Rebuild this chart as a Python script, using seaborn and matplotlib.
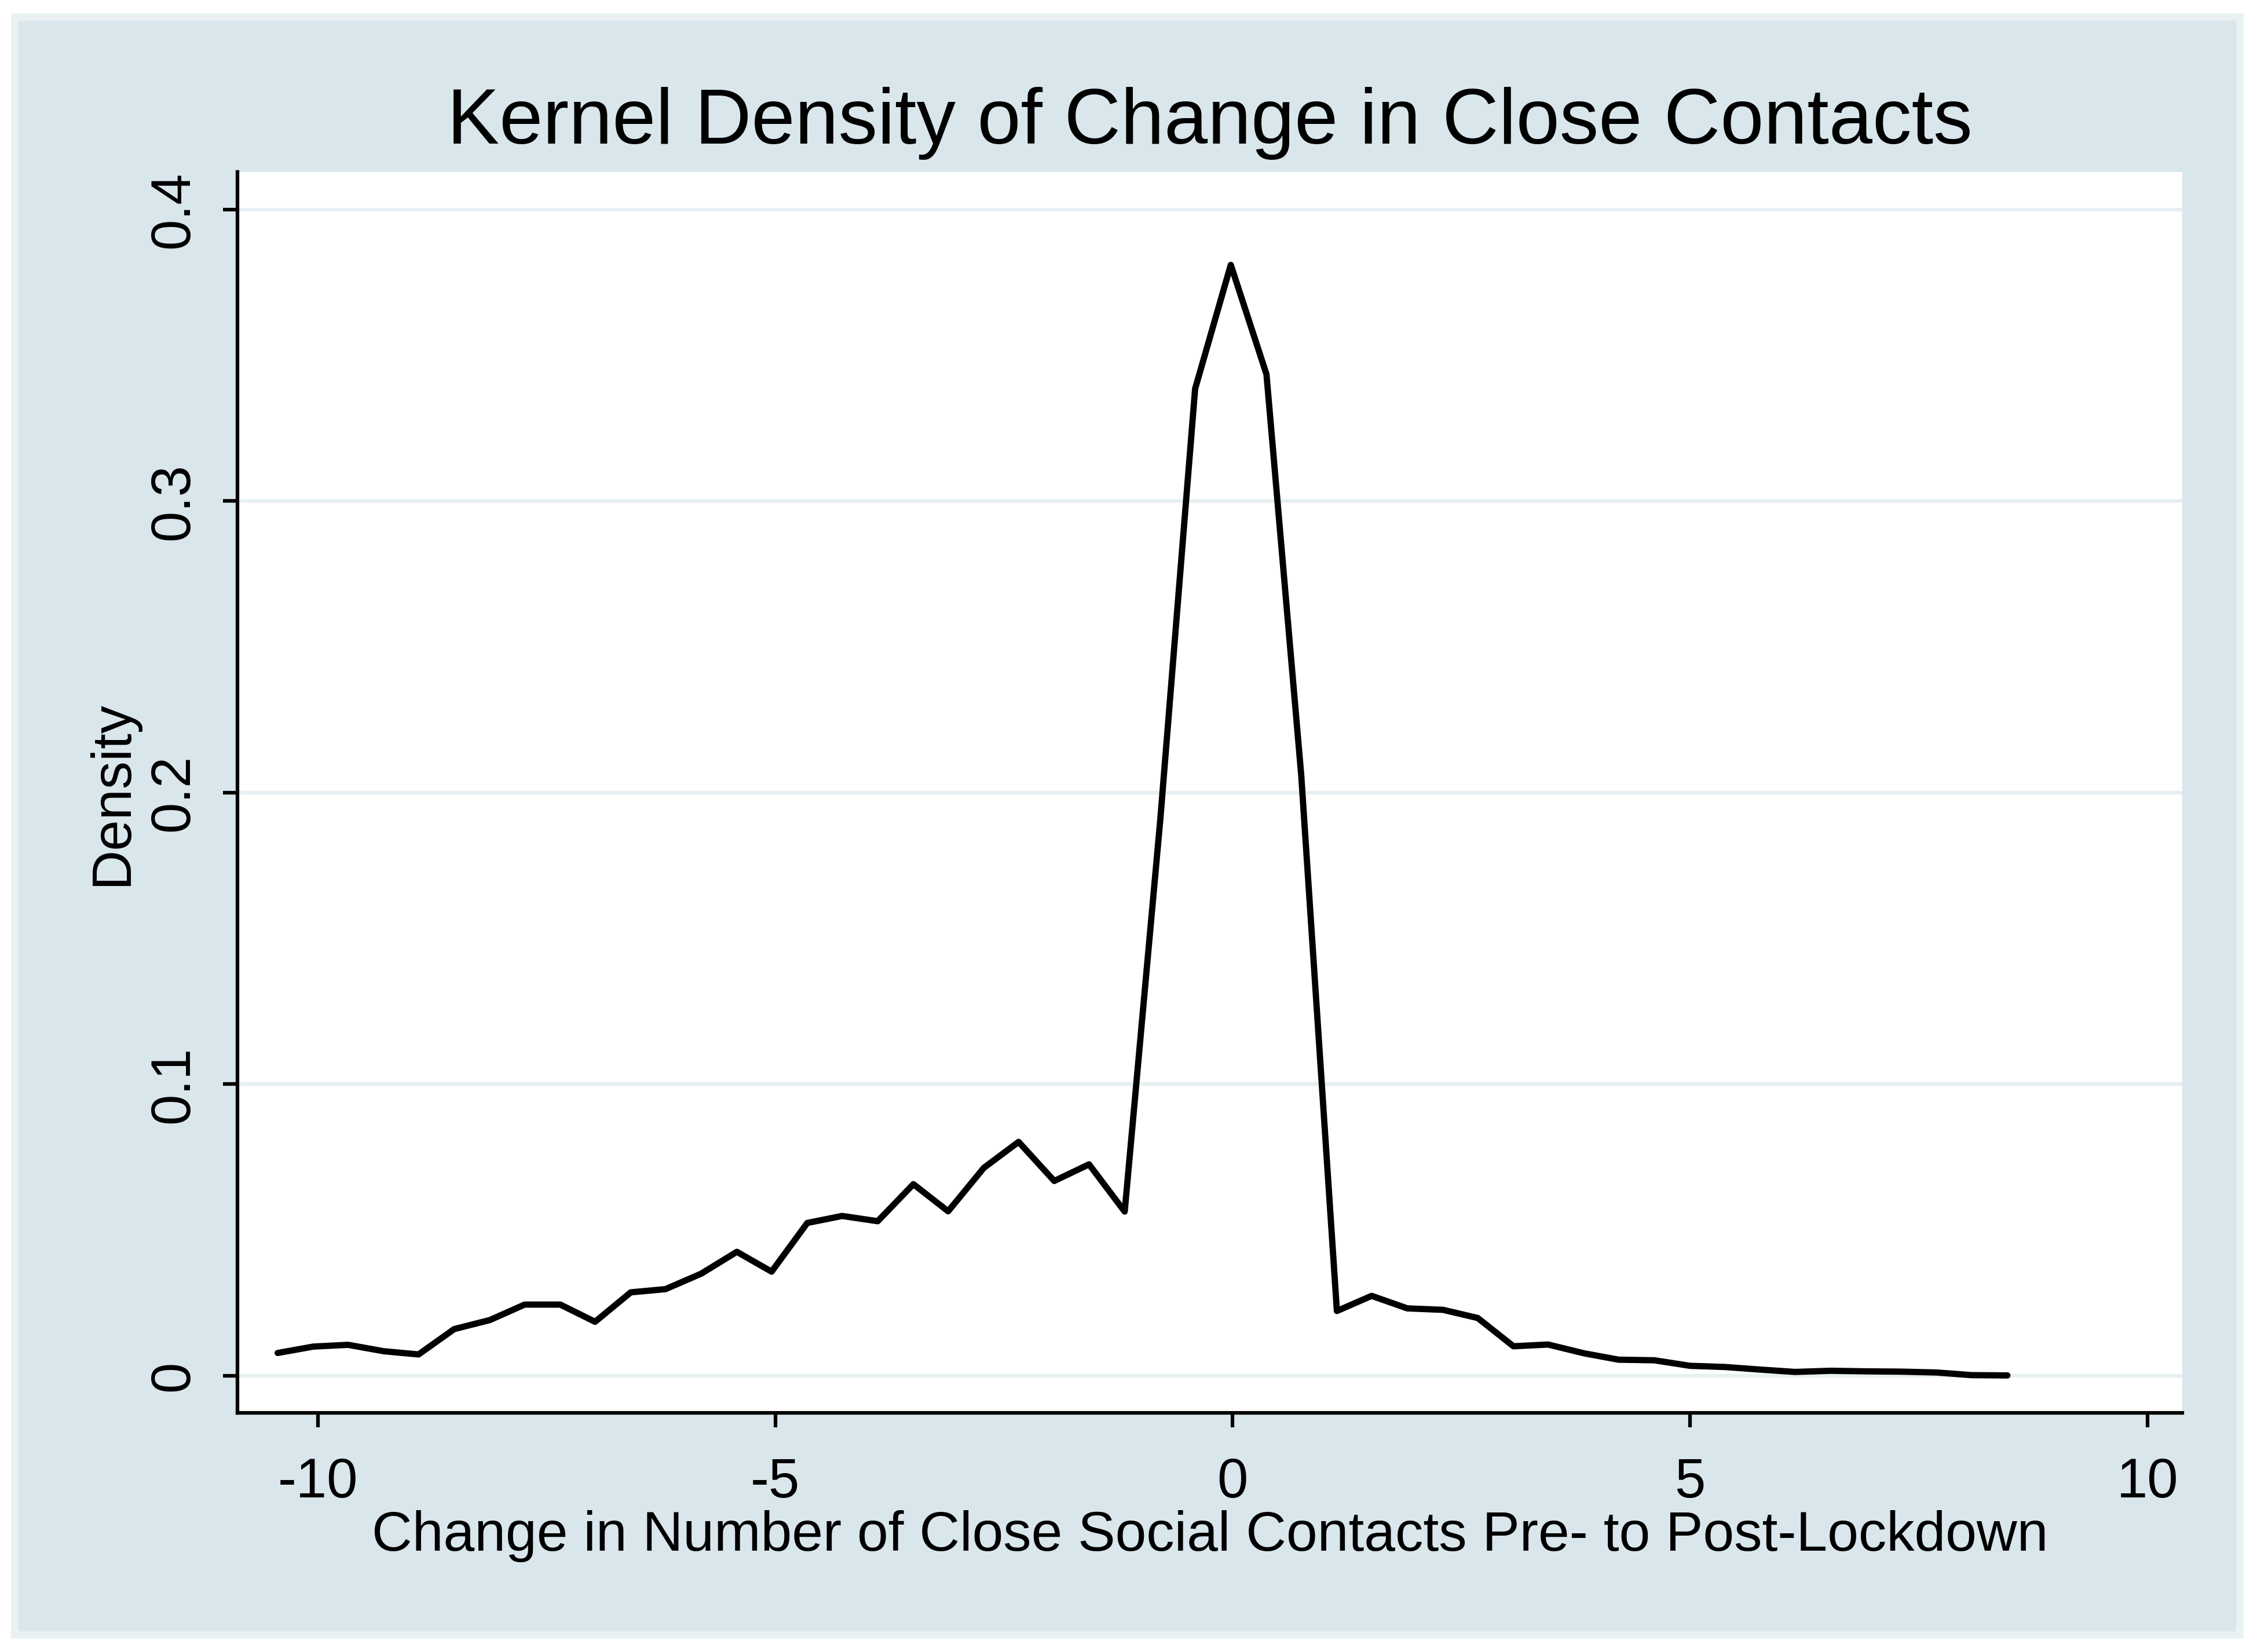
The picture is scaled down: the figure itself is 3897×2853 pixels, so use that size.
import pandas as pd
import seaborn as sns
import matplotlib.pyplot as plt
from matplotlib.patches import Rectangle

# kernel density estimate (50 evaluation points)
change = [-10.44, -10.05, -9.67, -9.28, -8.90, -8.51, -8.12, -7.74, -7.35, -6.97,
          -6.58, -6.20, -5.81, -5.42, -5.04, -4.65, -4.27, -3.88, -3.49, -3.11,
          -2.72, -2.34, -1.95, -1.57, -1.18, -0.79, -0.41, -0.02, 0.37, 0.75,
          1.14, 1.52, 1.91, 2.30, 2.68, 3.07, 3.45, 3.84, 4.22, 4.61,
          5.00, 5.38, 5.77, 6.15, 6.54, 6.93, 7.31, 7.70, 8.08, 8.47]
density = [0.0078, 0.0100, 0.0106, 0.0084, 0.0073, 0.0160, 0.0191, 0.0244, 0.0244, 0.0185,
           0.0286, 0.0297, 0.0350, 0.0425, 0.0357, 0.0524, 0.0548, 0.0530, 0.0657, 0.0564,
           0.0713, 0.0802, 0.0668, 0.0725, 0.0563, 0.1910, 0.3385, 0.3810, 0.3435, 0.2060,
           0.0222, 0.0274, 0.0231, 0.0226, 0.0198, 0.0101, 0.0107, 0.0077, 0.0055, 0.0053,
           0.0034, 0.0030, 0.0021, 0.0013, 0.0017, 0.0015, 0.0014, 0.0011, 0.0002, 0.0001]

xticks = [-10, -5, 0, 5, 10]
xticklabels = ['-10', '-5', '0', '5', '10']
yticks = [0, 0.1, 0.2, 0.3, 0.4]
yticklabels = ['0', '0.1', '0.2', '0.3', '0.4']

df = pd.DataFrame({'change': change, 'density': density})

sns.set_theme(style='white')
plt.rcParams['font.family'] = ['Liberation Sans', 'DejaVu Sans']

fig = plt.figure(figsize=(12.99, 9.513), dpi=300)
fig.patch.set_facecolor('white')
# stata-like graph region, kept behind the axes
fig.patches.append(Rectangle((0.0064, 0.0105), 0.9859, 0.979, transform=fig.transFigure,
                             facecolor='#d9e6ec', edgecolor='#e9f1f3', linewidth=3, zorder=-10))

ax = fig.add_axes([0.1052, 0.1446, 0.8616, 0.7509])
ax.set_zorder(1)
ax.set_facecolor('white')

for v in yticks:
    ax.axhline(v, color='#e6eff2', linewidth=1.5, zorder=0)

sns.lineplot(data=df, x='change', y='density', color='black', linewidth=2.6, ax=ax)

ax.set_xlim(-10.88, 10.38)
ax.set_ylim(-0.0128, 0.4128)
ax.set_xticks(xticks)
ax.set_xticklabels(xticklabels)
ax.set_yticks(yticks)
ax.set_yticklabels(yticklabels)

for s in ['top', 'right']:
    ax.spines[s].set_visible(False)
for s in ['left', 'bottom']:
    ax.spines[s].set_color('black')
    ax.spines[s].set_linewidth(1.5)

ax.tick_params(axis='both', direction='out', length=6, width=1.5, color='black',
               labelsize=23, labelcolor='black', bottom=True, left=True)
ax.tick_params(axis='x', pad=12)
ax.tick_params(axis='y', pad=9.5, labelrotation=90)
for lbl in ax.get_yticklabels():
    lbl.set_va('center')

ax.set_xlabel('Change in Number of Close Social Contacts Pre- to Post-Lockdown', fontsize=23.2, color='black')
ax.set_ylabel('Density', fontsize=23, color='black')
ax.xaxis.set_label_coords(0.5, -0.078)
ax.yaxis.set_label_coords(-0.051, 0.5)
ax.set_title('Kernel Density of Change in Close Contacts', fontsize=32.4, color='black', pad=12)

plt.savefig('out.png', dpi=300)
